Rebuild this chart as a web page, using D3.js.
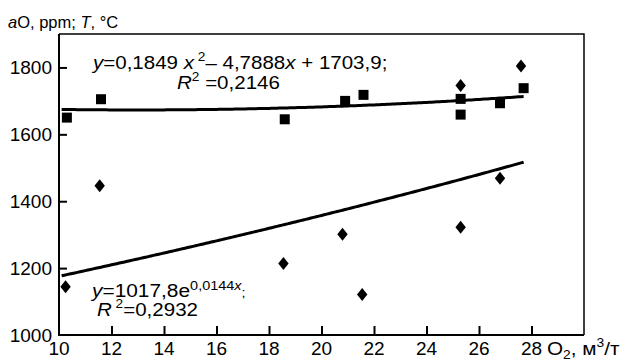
<!DOCTYPE html>
<html>
<head>
<meta charset="utf-8">
<script src="https://cdn.jsdelivr.net/npm/d3@7"></script>
<style>
  body { margin: 0; background: #fff; }
  text { font-family: "Liberation Sans", Arial, sans-serif; fill: #000; }
</style>
</head>
<body>
<div id="chart"></div>
<script>
// temperature T, °C (squares)
const tempX = [10.3, 11.6, 18.6, 20.9, 21.6, 25.3, 25.3, 26.8, 27.7];
const tempY = [1650, 1705, 1645, 1700, 1718, 1706, 1659, 1693, 1738];
// oxygen activity aO, ppm (diamonds)
const aoX = [10.25, 11.55, 18.55, 20.8, 21.55, 25.3, 26.8, 25.3, 27.6];
const aoY = [1144, 1446, 1214, 1301, 1121, 1322, 1469, 1746, 1804];
// trend equations from the figure
const polyCoef = [0.1849, -4.7888, 1703.9];
const expCoef = [1017.8, 0.0144];
const xTicks = [12, 14, 16, 18, 20, 22, 24, 26, 28];
const yTicks = [1200, 1400, 1600, 1800];
const xLabels = [10, 12, 14, 16, 18, 20, 22, 24, 26, 28];
const yLabels = [1000, 1200, 1400, 1600, 1800];

const W = 628, H = 361;
const margin = { top: 34, right: 44, bottom: 26, left: 59 };
const innerW = W - margin.left - margin.right;
const innerH = H - margin.top - margin.bottom;

const svg = d3.select('#chart').append('svg')
  .attr('width', W)
  .attr('height', H);

const x = d3.scaleLinear().domain([10, 30]).range([0, innerW]);
const y = d3.scaleLinear().domain([1000, 1900]).range([innerH, 0]);

const g = svg.append('g')
  .attr('transform', `translate(${margin.left},${margin.top})`);

// frame: thin top/right
g.append('path')
  .attr('d', `M0,0H${innerW}V${innerH}`)
  .attr('fill', 'none')
  .attr('stroke', '#000')
  .attr('stroke-width', 1.5);

// axes, ticks pointing inside
const xAxis = g.append('g')
  .attr('transform', `translate(0,${innerH})`)
  .call(d3.axisTop(x).tickValues(xTicks).tickSize(9).tickFormat(''));
xAxis.select('.domain').remove();
xAxis.selectAll('line').attr('stroke-width', 2);

const yAxis = g.append('g')
  .call(d3.axisRight(y).tickValues(yTicks).tickSize(8).tickFormat(''));
yAxis.select('.domain').remove();
yAxis.selectAll('line').attr('stroke-width', 2);

g.append('path')
  .attr('d', `M0,0V${innerH}H${innerW}`)
  .attr('fill', 'none')
  .attr('stroke', '#000')
  .attr('stroke-width', 2);

// tick labels
g.selectAll('.xl').data(xLabels).enter().append('text')
  .attr('class', 'xl')
  .attr('x', d => x(d))
  .attr('y', innerH + 20)
  .attr('text-anchor', 'middle')
  .style('font-size', '19px')
  .text(d => d);

g.selectAll('.yl').data(yLabels).enter().append('text')
  .attr('class', 'yl')
  .attr('x', -7)
  .attr('y', d => y(d) + 7)
  .attr('text-anchor', 'end')
  .style('font-size', '19px')
  .text(d => d);

// trend lines
const line = d3.line().x(d => x(d[0])).y(d => y(d[1]));
const xs = d3.range(10.1, 27.71, 0.1);
g.append('path')
  .datum(xs.map(v => [v, polyCoef[0] * v * v + polyCoef[1] * v + polyCoef[2]]))
  .attr('d', line)
  .attr('fill', 'none')
  .attr('stroke', '#000')
  .attr('stroke-width', 3);
g.append('path')
  .datum(xs.map(v => [v, expCoef[0] * Math.exp(expCoef[1] * v)]))
  .attr('d', line)
  .attr('fill', 'none')
  .attr('stroke', '#000')
  .attr('stroke-width', 3);

// markers
g.selectAll('.sq').data(tempX).enter().append('rect')
  .attr('class', 'sq')
  .attr('x', d => x(d) - 5)
  .attr('y', (d, i) => y(tempY[i]) - 5)
  .attr('width', 10)
  .attr('height', 10)
  .attr('fill', '#000');

g.selectAll('.dm').data(aoX).enter().append('path')
  .attr('class', 'dm')
  .attr('transform', (d, i) => `translate(${x(d)},${y(aoY[i])})`)
  .attr('d', 'M0,-6.5L5.2,0L0,6.5L-5.2,0Z')
  .attr('fill', '#000');

// labels in the figure are a bit wider than Arial, so stretch them
function label(px, py, sx, size) {
  return svg.append('text')
    .attr('transform', `translate(${px},${py}) scale(${sx},1)`)
    .style('font-size', size + 'px');
}

const eq1 = label(93, 69, 1.14, 18);
eq1.append('tspan').style('font-style', 'italic').text('y');
eq1.append('tspan').text('=0,1849 ');
eq1.append('tspan').style('font-style', 'italic').text('x');
eq1.append('tspan').attr('dy', -8).style('font-size', '12px').text(' 2');
eq1.append('tspan').attr('dy', 8).text('– 4,7888');
eq1.append('tspan').style('font-style', 'italic').text('x');
eq1.append('tspan').text(' + 1703,9;');

const r1 = label(177, 89, 1.14, 18);
r1.append('tspan').style('font-style', 'italic').text('R');
r1.append('tspan').attr('dy', -8).style('font-size', '12px').text('2');
r1.append('tspan').attr('dy', 8).text(' =0,2146');

const eq2 = label(92, 297, 1.16, 18);
eq2.append('tspan').style('font-style', 'italic').text('y');
eq2.append('tspan').text('=1017,8e');
eq2.append('tspan').attr('dy', -7).style('font-size', '12.5px').text('0,0144');
eq2.append('tspan').style('font-size', '12.5px').style('font-style', 'italic').text('x');
eq2.append('tspan').attr('dy', 7).style('font-size', '12.5px').text(';');

const r2 = label(97, 316, 1.14, 18);
r2.append('tspan').style('font-style', 'italic').text('R');
r2.append('tspan').attr('dy', -8).style('font-size', '12px').text(' 2');
r2.append('tspan').attr('dy', 8).text('=0,2932');

// axis titles
const yt = label(8, 28, 1.0, 16.5);
yt.append('tspan').style('font-style', 'italic').text('a');
yt.append('tspan').text('O, ppm; ');
yt.append('tspan').style('font-style', 'italic').text('T');
yt.append('tspan').text(', °C');

const xt = label(547, 355, 1.15, 18);
xt.append('tspan').text('O');
xt.append('tspan').attr('dy', 4).style('font-size', '12px').text('2');
xt.append('tspan').attr('dy', -4).text(', м');
xt.append('tspan').attr('dy', -8).style('font-size', '12px').text('3');
xt.append('tspan').attr('dy', 8).text('/т');
</script>
</body>
</html>
